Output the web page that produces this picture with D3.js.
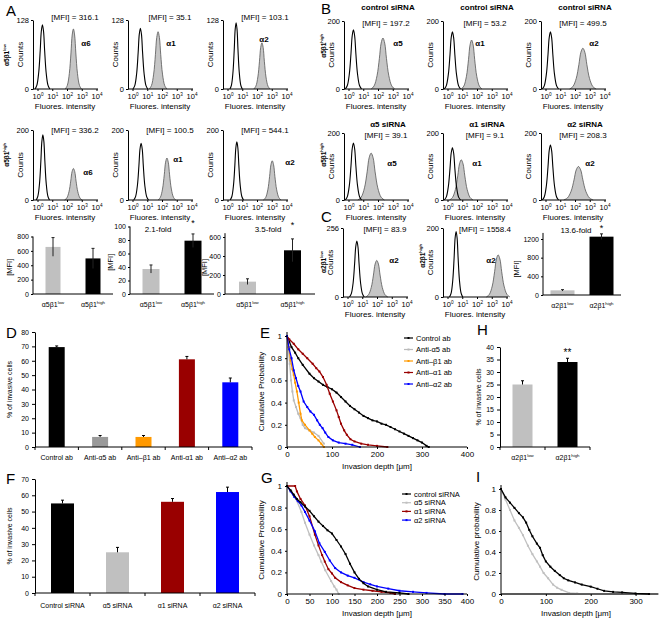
<!DOCTYPE html>
<html><head><meta charset="utf-8">
<script src="https://cdn.jsdelivr.net/npm/d3@7"></script>
<style>body{margin:0;background:#fff} svg{display:block}</style>
</head><body><script>
// ---------------- DATA ----------------
const decades = [0,1,2,3,4];
// relative histogram peak profile (offset in half-widths, relative height)
const peakShape = [[-1,0],[-0.75,0.06],[-0.5,0.26],[-0.3,0.6],[-0.15,0.9],[0,1],[0.15,0.9],[0.3,0.6],[0.5,0.26],[0.75,0.06],[1,0]];

// Panel A histograms: [centre (log10 decade), relative height, half-width (decades)]
const aMarkers = ["α6","α1","α2"];
const aLowMFI = ["316.1","35.1","103.1"];
const aHighMFI = ["336.2","100.5","544.1"];
const aLowCtrl  = [[0.3,0.93,0.5],[0.5,0.88,0.5],[0.55,0.96,0.42]];
const aLowStain = [[2.4,0.87,0.55],[1.7,0.83,0.6],[2.3,0.67,0.55]];
const aHighCtrl = [[0.33,0.93,0.45],[0.55,0.81,0.5],[0.6,0.83,0.45]];
const aHighStain= [[2.4,0.45,0.6],[2.3,0.6,0.6],[3.0,0.56,0.6]];
// Panel B histograms
const bMarkers = ["α5","α1","α2"];
const bTopTitles = ["control siRNA","control siRNA","control siRNA"];
const bBotTitles = ["α5 siRNA","α1 siRNA","α2 siRNA"];
const bTopMFI = ["197.2","53.2","499.5"];
const bBotMFI = ["39.1","9.1","208.3"];
const bTopCtrl  = [[0.3,0.87,0.55],[0.3,0.84,0.55],[0.3,0.84,0.55]];
const bTopStain = [[2.3,0.75,0.8],[1.6,0.72,0.7],[2.5,0.6,0.9]];
const bBotCtrl  = [[0.3,0.85,0.55],[0.3,0.78,0.55],[0.3,0.82,0.55]];
const bBotStain = [[1.5,0.7,0.9],[0.9,0.6,0.8],[2.2,0.5,1.0]];
// Panel C histograms
const cMax = [256,200];
const cMFI = ["83.9","1558.4"];
const cCtrl  = [[0.6,0.81,0.5],[0.55,0.95,0.45]];
const cStain = [[1.95,0.53,0.75],[3.4,0.61,0.8]];

// MFI bar charts
const a5Groups = [["α5β1","low"],["α5β1","high"]];
const a2Groups = [["α2β1","low"],["α2β1","high"]];
const a6Mean=[655,495], a6Err=[130,140];
const a1Mean=[37,79],   a1Err=[6,10];
const a2Mean=[130,460], a2Err=[30,120];
const cBarMean=[100,1250], cBarErr=[15,60];
const foldTexts = ["2.1-fold","3.5-fold","13.6-fold"];

// Panel D
const dCats = ["Control ab","Anti-α5 ab","Anti–β1 ab","Anti-α1 ab","Anti–α2 ab"];
const dMean = [69.5,7,7,61,45];
const dErr  = [0.8,1,1,2,3];
// Panel F
const fCats = ["Control siRNA","α5 siRNA","α1 siRNA","α2 siRNA"];
const fMean = [55,25,56,62];
const fErr  = [2,3,2,3];
// Panel H
const hMean = [25,34];
const hErr  = [1.5,1.5];

// Panel E cumulative curves [depth µm, probability]
const eLegend = ["Control ab","Anti-α5 ab","Anti–β1 ab","Anti–α1 ab","Anti–α2 ab"];
const eControl = [[0,1],[5,0.95],[10,0.9],[18,0.85],[25,0.8],[35,0.74],[50,0.66],[60,0.62],[70,0.59],[80,0.56],[90,0.54],[100,0.52],[110,0.49],[120,0.45],[130,0.41],[140,0.37],[150,0.34],[160,0.31],[170,0.28],[180,0.26],[190,0.24],[200,0.23],[210,0.21],[220,0.2],[230,0.18],[240,0.16],[250,0.14],[260,0.12],[270,0.1],[280,0.08],[290,0.06],[300,0.04],[310,0.01],[315,0]];
const eA5 = [[0,1],[3,0.9],[6,0.75],[9,0.6],[12,0.5],[15,0.42],[20,0.36],[25,0.3],[30,0.26],[35,0.2],[40,0.17],[50,0.15],[60,0.13],[70,0.1],[82,0.03]];
const eB1 = [[0,1],[4,0.9],[8,0.78],[12,0.7],[15,0.65],[18,0.58],[22,0.5],[26,0.4],[30,0.3],[33,0.24],[40,0.2],[50,0.15],[56,0.12],[62,0.09],[70,0.06],[76,0.03],[82,0]];
const eA1 = [[0,1],[5,0.97],[15,0.93],[25,0.88],[35,0.84],[45,0.8],[57,0.75],[65,0.71],[72,0.68],[80,0.63],[88,0.56],[95,0.48],[102,0.41],[110,0.33],[115,0.27],[120,0.21],[127,0.15],[133,0.11],[141,0.07],[150,0.05],[165,0.03],[180,0.02],[200,0.01],[223,0]];
const eA2 = [[0,1],[5,0.88],[10,0.8],[15,0.69],[20,0.62],[25,0.55],[30,0.5],[37,0.41],[45,0.36],[52,0.32],[60,0.29],[67,0.24],[73,0.2],[79,0.17],[85,0.13],[92,0.09],[102,0.06],[115,0.04],[130,0.03],[145,0.02],[162,0]];
// Panel G
const gLegend = ["control siRNA","α5 siRNA","α1 siRNA","α2 siRNA"];
const gControl = [[0,1],[8,0.96],[15,0.92],[22,0.88],[30,0.85],[40,0.81],[50,0.77],[60,0.72],[70,0.67],[80,0.63],[90,0.59],[100,0.56],[110,0.5],[120,0.44],[130,0.37],[140,0.28],[150,0.2],[160,0.14],[170,0.1],[180,0.07],[200,0.04],[220,0.02],[250,0.01],[270,0]];
const gA5 = [[0,1],[10,0.95],[20,0.88],[32,0.76],[40,0.66],[50,0.55],[60,0.45],[70,0.36],[76,0.3],[85,0.22],[98,0.12],[105,0.07],[110,0.04],[115,0]];
const gA1 = [[0,1],[18,1],[22,0.95],[30,0.88],[40,0.82],[50,0.72],[62,0.55],[70,0.45],[78,0.36],[84,0.3],[92,0.23],[100,0.19],[107,0.15],[120,0.11],[135,0.08],[150,0.055],[170,0.04],[190,0.03],[210,0.02],[230,0.01],[240,0]];
const gA2 = [[0,1],[8,0.95],[16,0.9],[24,0.86],[32,0.82],[40,0.76],[50,0.68],[62,0.58],[72,0.47],[84,0.39],[95,0.31],[107,0.24],[120,0.2],[135,0.17],[150,0.15],[170,0.11],[185,0.09],[200,0.07],[225,0.05],[250,0.03],[280,0.02],[310,0.01],[350,0],[390,0]];
// Panel I
const iBlack = [[0,1],[10,0.92],[20,0.87],[30,0.82],[40,0.77],[49,0.73],[56,0.68],[63,0.61],[70,0.55],[80,0.48],[87,0.44],[93,0.37],[100,0.31],[110,0.26],[120,0.22],[131,0.18],[140,0.15],[150,0.13],[165,0.11],[180,0.09],[200,0.07],[215,0.05],[230,0.03],[250,0.02],[270,0.015],[300,0.005],[330,0]];
const iGray = [[0,1],[10,0.9],[20,0.8],[30,0.7],[40,0.63],[49,0.56],[60,0.46],[70,0.38],[80,0.31],[87,0.26],[95,0.2],[105,0.15],[116,0.09],[125,0.06],[135,0.04],[152,0.01],[170,0.005],[200,0],[350,0]];

const probTicks = [0,0.2,0.4,0.6,0.8,1];

// ---------------- DRAWING ----------------
const FONT = 'Arial, "Liberation Sans", Helvetica, sans-serif';
const svg = d3.select("body").append("svg").attr("width",663).attr("height",622)
  .attr("font-family",FONT);

function txt(x,y,str,o={}){
  const t = svg.append("text").attr("x",x).attr("y",y).attr("font-size",o.fs||8)
    .attr("text-anchor",o.anchor||"middle").attr("fill",o.fill||"#000");
  if(o.bold) t.attr("font-weight","bold");
  if(o.rot) t.attr("transform",`rotate(-90,${x},${y})`);
  if(str!==null && str!==undefined) t.text(str);
  return t;
}
function addSup(t, base, s, fs){
  t.append("tspan").text(base);
  t.append("tspan").attr("dy", -fs*0.4).attr("font-size", fs*0.62).text(s);
}
function styleAxis(g, fs){
  g.attr("font-size",fs).attr("font-family",FONT);
  g.selectAll("path,line").attr("stroke","#000");
  return g;
}

function hist(o){
  const {x0,yTop,y0,maxC,ctrl,stain,mfi,marker,lab,title,titleY,mfiY} = o;
  const x = d3.scaleLinear().domain([0,4]).range([x0+5,x0+64]);
  const y = d3.scaleLinear().domain([0,1]).range([y0,yTop]);
  const yc = d3.scaleLinear().domain([0,maxC]).range([y0,yTop]);
  const line = d3.line().x(d=>x(d[0])).y(d=>y(d[1])).curve(d3.curveCatmullRom);
  const pts = p => peakShape.map(([dx,h])=>[Math.max(p[0]+dx*p[2],-0.33), h*p[1]]);
  svg.append("path").attr("d", line(pts(stain))).attr("fill","#c6c6c6").attr("stroke","#555").attr("stroke-width",0.8);
  svg.append("path").attr("d", line(pts(ctrl))).attr("fill","none").attr("stroke","#000").attr("stroke-width",1.1);
  const ga = svg.append("g").attr("transform",`translate(${x0},0)`)
    .call(d3.axisLeft(yc).tickValues([0,maxC]).tickSize(2).tickSizeOuter(0).tickPadding(2));
  styleAxis(ga,7.5);
  svg.append("line").attr("x1",x0).attr("x2",x0+65).attr("y1",y0).attr("y2",y0).attr("stroke","#000");
  decades.forEach(d=>{
    svg.append("line").attr("x1",x(d)).attr("x2",x(d)).attr("y1",y0).attr("y2",y0+2).attr("stroke","#000");
    addSup(txt(x(d),y0+10,null,{fs:7.5}),"10",String(d),7.5);
  });
  txt(x0+32,y0+20,"Fluores. intensity",{fs:8});
  txt(x0-10,(y0+yTop)/2,"Counts",{fs:8,rot:true});
  txt(x0+42,mfiY,"[MFI] = "+mfi,{fs:8});
  txt(lab[0],lab[1],marker,{fs:8,bold:true});
  if(title) txt(x0+44,titleY,title,{fs:8,bold:true});
}

// Panel A histograms
const aX = [33,128,223];
const aLabLow = [[86,46],[171,46],[264,42]];
const aLabHigh = [[88,175],[178,162],[290,165]];
aX.forEach((x0,i)=>{
  hist({x0,yTop:20,y0:89,maxC:128,ctrl:aLowCtrl[i],stain:aLowStain[i],mfi:aLowMFI[i],marker:aMarkers[i],lab:aLabLow[i],mfiY:20});
  hist({x0,yTop:130,y0:200,maxC:200,ctrl:aHighCtrl[i],stain:aHighStain[i],mfi:aHighMFI[i],marker:aMarkers[i],lab:aLabHigh[i],mfiY:133});
});
// Panel B histograms
const bX = [344,443,541];
const bLabTop = [[398,46],[480,46],[594,46]];
const bLabBot = [[392,166],[477,166],[590,166]];
bX.forEach((x0,i)=>{
  hist({x0,yTop:21,y0:89,maxC:200,ctrl:bTopCtrl[i],stain:bTopStain[i],mfi:bTopMFI[i],marker:bMarkers[i],lab:bLabTop[i],title:bTopTitles[i],titleY:10,mfiY:26});
  hist({x0,yTop:133,y0:200,maxC:200,ctrl:bBotCtrl[i],stain:bBotStain[i],mfi:bBotMFI[i],marker:bMarkers[i],lab:bLabBot[i],title:bBotTitles[i],titleY:127,mfiY:138});
});
// Panel C histograms
const cX = [343,443];
const cLab = [[394,263],[491,263]];
cX.forEach((x0,i)=>{
  hist({x0,yTop:228,y0:297,maxC:cMax[i],ctrl:cCtrl[i],stain:cStain[i],mfi:cMFI[i],marker:"α2",lab:cLab[i],mfiY:232});
});

// Row labels
function rowLabel(x,y,base,s){ const t=txt(x,y,null,{fs:6.5,bold:true,rot:true}); addSup(t,base,s,6.5); }
rowLabel(9,55,"α5β1","low");
rowLabel(9,155,"α5β1","high");
rowLabel(326,46,"α5β1","high");
rowLabel(326,155,"α5β1","high");
rowLabel(326,262,"α2β1","low");
rowLabel(425,256,"α2β1","high");

// MFI bar charts
function mfiBar(o){
  const {x0,x1,y0,yMaxPx,maxV,ticks,groups,means,errs,barW,ylabX,topV} = o;
  const xb = d3.scaleBand().domain(d3.range(groups.length)).range([x0,x1]);
  const y = d3.scaleLinear().domain([0,maxV]).range([y0,yMaxPx]);
  const colors = ["#c0c0c0","#000"];
  means.forEach((m,i)=>{
    const cx = xb(i)+xb.bandwidth()/2;
    svg.append("rect").attr("x",cx-barW/2).attr("width",barW).attr("y",y(m)).attr("height",y0-y(m)).attr("fill",colors[i]);
    svg.append("line").attr("x1",cx).attr("x2",cx).attr("y1",y(m-errs[i])).attr("y2",y(m+errs[i])).attr("stroke","#222").attr("stroke-width",1);
    svg.append("line").attr("x1",cx-1.5).attr("x2",cx+1.5).attr("y1",y(m+errs[i])).attr("y2",y(m+errs[i])).attr("stroke","#222");
    const t = txt(cx,y0+13,null,{fs:7}); addSup(t,groups[i][0],groups[i][1],7);
  });
  const ga = svg.append("g").attr("transform",`translate(${x0},0)`)
    .call(d3.axisLeft(y).tickValues(ticks).tickFormat(d3.format("d")).tickSize(2).tickSizeOuter(0).tickPadding(2));
  ga.select(".domain").attr("d",`M0,${y0}V${y(topV)}`);
  styleAxis(ga,7);
  svg.append("line").attr("x1",x0).attr("x2",x1).attr("y1",y0).attr("y2",y0).attr("stroke","#000");
  txt(ylabX,(y0+yMaxPx)/2+2,"[MFI]",{fs:7.5,rot:true});
  return {xb,y};
}
mfiBar({x0:33,x1:113,y0:294,yMaxPx:236.5,maxV:800,ticks:[0,200,400,600,800],groups:a5Groups,means:a6Mean,errs:a6Err,barW:15,ylabX:12,topV:800});
const m2 = mfiBar({x0:130,x1:214,y0:294,yMaxPx:226.5,maxV:100,ticks:[0,20,40,60,80,100],groups:a5Groups,means:a1Mean,errs:a1Err,barW:17,ylabX:113,topV:100});
const m3 = mfiBar({x0:225,x1:315,y0:294,yMaxPx:237,maxV:600,ticks:[0,200,400,600],groups:a5Groups,means:a2Mean,errs:a2Err,barW:17,ylabX:207,topV:640});
const m4 = mfiBar({x0:543,x1:621,y0:295,yMaxPx:239,maxV:1200,ticks:[0,400,800,1200],groups:a2Groups,means:cBarMean,errs:cBarErr,barW:24,ylabX:519,topV:1330});
txt(158,232,foldTexts[0],{fs:8}); txt(m2.xb(1)+m2.xb.bandwidth()/2,226,"*",{fs:9});
txt(268,232,foldTexts[1],{fs:8}); txt(m3.xb(1)+m3.xb.bandwidth()/2,228,"*",{fs:9});
txt(576,233,foldTexts[2],{fs:8}); txt(m4.xb(1)+m4.xb.bandwidth()/2,231,"*",{fs:9});

// Category bar charts
function catBar(o){
  const {x0,x1,y0,yTopPx,maxV,ticks,cats,means,errs,colors,barW,labY,ylab,ylabX,labelFn} = o;
  const xb = d3.scaleBand().domain(d3.range(cats.length)).range([x0,x1]);
  const y = d3.scaleLinear().domain([0,maxV]).range([y0,yTopPx]);
  means.forEach((m,i)=>{
    const cx = xb(i)+xb.bandwidth()/2;
    svg.append("rect").attr("x",cx-barW/2).attr("width",barW).attr("y",y(m)).attr("height",y0-y(m)).attr("fill",colors[i]);
    svg.append("line").attr("x1",cx).attr("x2",cx).attr("y1",y(m)).attr("y2",y(m+errs[i])).attr("stroke","#000");
    svg.append("line").attr("x1",cx-1.5).attr("x2",cx+1.5).attr("y1",y(m+errs[i])).attr("y2",y(m+errs[i])).attr("stroke","#000");
    if(labelFn) labelFn(cx,labY,i); else txt(cx,labY,cats[i],{fs:7});
  });
  const ga = svg.append("g").attr("transform",`translate(${x0},0)`)
    .call(d3.axisLeft(y).tickValues(ticks).tickSize(3).tickSizeOuter(0).tickPadding(3));
  styleAxis(ga,7);
  svg.append("line").attr("x1",x0).attr("x2",x1).attr("y1",y0).attr("y2",y0).attr("stroke","#000");
  d3.range(cats.length+1).forEach(k=>{
    const xx = k<cats.length? xb(k): x1;
    svg.append("line").attr("x1",xx).attr("x2",xx).attr("y1",y0).attr("y2",y0+3).attr("stroke","#000");
  });
  txt(ylabX,(y0+yTopPx)/2,ylab,{fs:7,rot:true});
  return {xb,y};
}
catBar({x0:35,x1:252,y0:447,yTopPx:332,maxV:80,ticks:d3.range(0,81,10),cats:dCats,means:dMean,errs:dErr,
  colors:["#000","#999999","#ff9900","#990000","#0000ff"],barW:16,labY:460,ylab:"% of invasive cells",ylabX:12});
catBar({x0:35,x1:255,y0:593,yTopPx:479,maxV:70,ticks:d3.range(0,71,10),cats:fCats,means:fMean,errs:fErr,
  colors:["#000","#c0c0c0","#990000","#0000ff"],barW:23,labY:608,ylab:"% of invasive cells",ylabX:12});
const hb = catBar({x0:500,x1:590,y0:447,yTopPx:347,maxV:40,ticks:d3.range(0,41,5),cats:a2Groups,means:hMean,errs:hErr,
  colors:["#c0c0c0","#000"],barW:20,labY:460,ylab:"% of invasive cells",ylabX:481,
  labelFn:(cx,yy,i)=>addSup(txt(cx,yy,null,{fs:7}),a2Groups[i][0],a2Groups[i][1],7)});
txt(hb.xb(1)+hb.xb.bandwidth()/2,356,"**",{fs:10});

// Cumulative probability plots
function cumPlot(o){
  const {x0,x1,xMax,y0,y1,xTicks,series,colors,xlab,xlabX,ylab,ylabX,baseline} = o;
  const x = d3.scaleLinear().domain([0,xMax]).range([x0,x1]);
  const y = d3.scaleLinear().domain([0,1]).range([y0,y1]);
  const line = d3.line().x(d=>x(d[0])).y(d=>y(d[1]));
  if(baseline) svg.append("line").attr("x1",x0).attr("x2",x1).attr("y1",y0).attr("y2",y0).attr("stroke",baseline).attr("stroke-width",1.5);
  series.forEach((s,i)=>{
    svg.append("path").attr("d",line(s)).attr("fill","none").attr("stroke",colors[i]).attr("stroke-width",1.3);
    svg.selectAll(null).data(s).enter().append("rect")
      .attr("x",d=>x(d[0])-1).attr("y",d=>y(d[1])-1).attr("width",2).attr("height",2).attr("fill",colors[i]);
  });
  const gx = svg.append("g").attr("transform",`translate(0,${y0})`)
    .call(d3.axisBottom(x).tickValues(xTicks).tickSize(2).tickSizeOuter(0).tickPadding(2));
  styleAxis(gx,8);
  gx.select(".domain").attr("d",`M${x0},0H${x1}`);
  const gy = svg.append("g").attr("transform",`translate(${x0},0)`)
    .call(d3.axisLeft(y).tickValues(probTicks).tickFormat(d=>d).tickSize(2).tickSizeOuter(0).tickPadding(3));
  styleAxis(gy,8);
  gy.select(".domain").attr("d",`M0,${y0}V${y1-4}`);
  txt(xlabX,y0+22,xlab,{fs:8});
  txt(ylabX,(y0+y1)/2,ylab,{fs:8,rot:true});
  return {x,y};
}
const eColors = ["#000","#bbbbbb","#ff9900","#990000","#0000ff"];
cumPlot({x0:287,x1:467,xMax:400,y0:447,y1:336,xTicks:[0,100,200,300,400],series:[eControl,eA5,eB1,eA1,eA2],
  colors:eColors,xlab:"Invasion depth [μm]",xlabX:377,ylab:"Cumulative Probability",ylabX:264});
const gColors = ["#000","#c0c0c0","#990000","#0000ff"];
cumPlot({x0:287,x1:467,xMax:400,y0:594,y1:486,xTicks:d3.range(0,401,50),series:[gA5,gA1,gA2,gControl],
  colors:[gColors[1],gColors[2],gColors[3],gColors[0]],xlab:"Invasion depth [μm]",xlabX:377,ylab:"Cumulative Probability",ylabX:264});
cumPlot({x0:501,x1:658,xMax:350,y0:594,y1:489,xTicks:[0,100,200,300],series:[iGray,iBlack],
  colors:["#c0c0c0","#000"],xlab:"Invasion depth  [μm]",xlabX:576,ylab:"Cumulative probability",ylabX:479,baseline:"#999"});

// legends
function legend(x,y0,step,items,colors){
  items.forEach((s,i)=>{
    const yy = y0+i*step;
    svg.append("line").attr("x1",x).attr("x2",x+9).attr("y1",yy).attr("y2",yy).attr("stroke",colors[i]).attr("stroke-width",1.2);
    svg.append("rect").attr("x",x+3.5).attr("y",yy-1).attr("width",2).attr("height",2).attr("fill",colors[i]);
    txt(x+12,yy+2.5,s,{fs:7.5,anchor:"start"});
  });
}
legend(404,338,11.5,eLegend,eColors);
legend(402,494,8.7,gLegend,gColors);

// panel letters
[["A",6,16],["B",321,14],["C",321,222],["D",6,338],["E",260,338],["H",477,335],["F",6,484],["G",261,483],["I",476,482]]
  .forEach(([l,x,y])=>txt(x,y,l,{fs:15,anchor:"start"}));
</script></body></html>
